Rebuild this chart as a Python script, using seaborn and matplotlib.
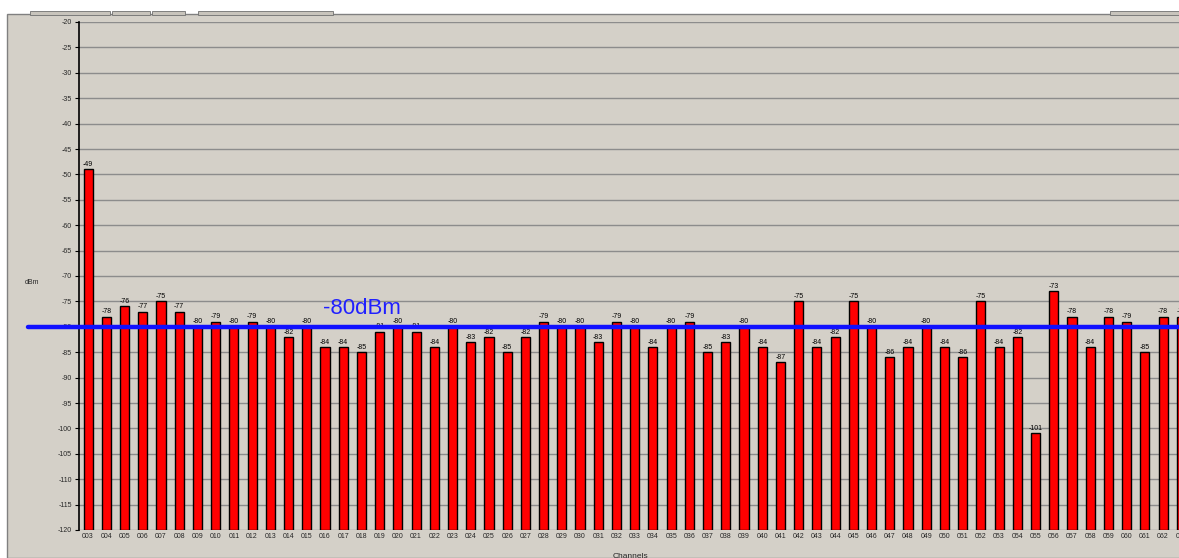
import numpy as np
import pandas as pd
import matplotlib
matplotlib.use("Agg")
import matplotlib.pyplot as plt
import seaborn as sns

# channel levels (dBm)
channels = [f"{n:03d}" for n in range(3, 64)]
levels = [-49, -78, -76, -77, -75, -77, -80, -79, -80, -79,
          -80, -82, -80, -84, -84, -85, -81, -80, -81, -84,
          -80, -83, -82, -85, -82, -79, -80, -80, -83, -79,
          -80, -84, -80, -79, -85, -83, -80, -84, -87, -75,
          -84, -82, -75, -80, -86, -84, -80, -84, -86, -75,
          -84, -82, -101, -73, -78, -84, -78, -79, -85, -78,
          -78]
y_ticks = list(range(-120, -15, 5))
floor = -120
limit = -80

BG = "#d4d0c8"

sns.set_style("white")
plt.rcParams["font.family"] = ["Liberation Sans", "DejaVu Sans"]

fig = plt.figure(figsize=(11.79, 5.58), dpi=100)
fig.patch.set_facecolor("white")

# window panel behind the chart
W, H = 1179, 558
panel = plt.Rectangle((7 / W, 0), 1, 1 - 14 / H, transform=fig.transFigure,
                      facecolor=BG, edgecolor="#808080", lw=1, zorder=-2)
fig.patches.append(panel)
for x0, x1 in [(30, 110), (112, 150), (152, 185), (198, 333), (1110, 1179)]:
    fig.patches.append(plt.Rectangle((x0 / W, 1 - 15 / H), (x1 - x0) / W, 4 / H,
                                     transform=fig.transFigure, facecolor="#c8c4bc",
                                     edgecolor="#707070", lw=0.6, zorder=-1))

n = len(channels)
ax_w = (n * 18.22) / W
ax = fig.add_axes([79 / W, 1 - 530 / H, ax_w, (530 - 22) / H])
ax.set_zorder(2)
ax.set_facecolor(BG)

df = pd.DataFrame({"channel": channels, "level": levels})
df["height"] = df["level"] - floor

sns.barplot(data=df, x="channel", y="height", bottom=floor, color="#ff0000",
            saturation=1, width=0.5, edgecolor="black", linewidth=1.0, ax=ax, zorder=3)

ax.bar_label(ax.containers[0], labels=[str(v) for v in levels], fontsize=5,
             padding=1, color="black")

ax.set_ylim(floor, -20)
ax.set_xlim(-0.5, n - 0.5)
ax.set_yticks(y_ticks)
ax.set_yticklabels([str(t) for t in y_ticks], fontsize=5)
ax.tick_params(axis="y", length=3, width=0.8, pad=2, left=True, color="black")
ax.tick_params(axis="x", length=0, labelsize=5, pad=2)
ax.yaxis.grid(True, color="#8c8c8c", lw=1)
ax.set_axisbelow(True)
for s in ["top", "right", "bottom"]:
    ax.spines[s].set_visible(False)
ax.spines["left"].set_color("black")
ax.spines["left"].set_linewidth(1.2)
ax.set_xlabel("")
ax.set_ylabel("")

# -80 dBm threshold line
ax.axhline(limit, xmin=-51 / (n * 18.22), xmax=1, color="#1010ff", lw=3.2,
           clip_on=False, zorder=5)
ax.text(12.9, limit + 1.6, "-80dBm", color="#2020ff", fontsize=16,
        ha="left", va="bottom", zorder=6)

fig.text(25 / W, 1 - 283 / H, "dBm", fontsize=5, ha="left", va="center")
fig.text(613 / W, 1 - 557 / H, "Channels", fontsize=6, ha="left", va="center")

fig.savefig("out.png", dpi=100, facecolor=fig.get_facecolor())
